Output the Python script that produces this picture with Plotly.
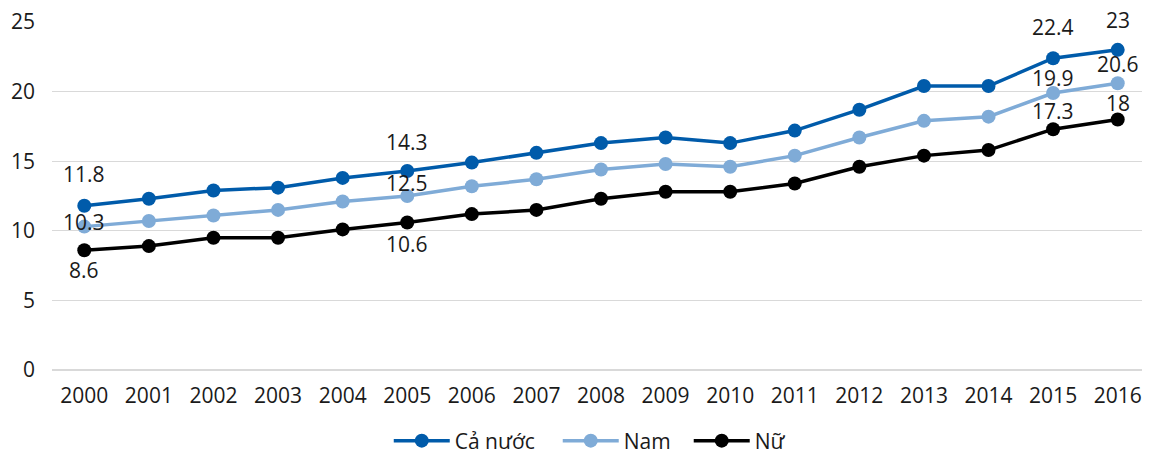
import plotly.graph_objects as go

years = [str(y) for y in range(2000, 2017)]
ca_nuoc = [11.8, 12.3, 12.9, 13.1, 13.8, 14.3, 14.9, 15.6, 16.3, 16.7, 16.3, 17.2, 18.7, 20.4, 20.4, 22.4, 23.0]
nam = [10.3, 10.7, 11.1, 11.5, 12.1, 12.5, 13.2, 13.7, 14.4, 14.8, 14.6, 15.4, 16.7, 17.9, 18.2, 19.9, 20.6]
nu = [8.6, 8.9, 9.5, 9.5, 10.1, 10.6, 11.2, 11.5, 12.3, 12.8, 12.8, 13.4, 14.6, 15.4, 15.8, 17.3, 18.0]

series_names = ["Cả nước", "Nam", "Nữ"]
series_colors = ["#005BAA", "#7FABD7", "#000000"]
legend_ids = ["legend", "legend2", "legend3"]
legend_x = [0.3067, 0.4606, 0.5799]
label_idx = [0, 5, 15, 16]
# vertical pixel offsets of data labels for each series at label_idx
label_shift = {
    "Cả nước": [32, 29, 31, 30],
    "Nam": [5, 13, 15, 19],
    "Nữ": [-20, -22, 18, 16],
}

FONT = "Open Sans"
FS = 21
x = list(range(len(years)))
fig = go.Figure()
annotations = []
for name, vals, col, lg in zip(series_names, [ca_nuoc, nam, nu], series_colors, legend_ids):
    fig.add_trace(go.Scatter(
        x=x, y=vals, name=name, mode="lines+markers", legend=lg, showlegend=True,
        line=dict(color=col, width=3.5),
        marker=dict(color=col, size=14),
    ))
    for i, s in zip(label_idx, label_shift[name]):
        v = vals[i]
        annotations.append(dict(
            x=i, y=v, xref="x", yref="y", text=f"{v:g}", showarrow=False,
            yshift=s, font=dict(family=FONT, size=FS, color="#1a1a1a"),
        ))

legend_common = dict(orientation="h", xanchor="left", y=-0.204, yanchor="middle",
                     font=dict(family=FONT, size=FS), itemwidth=56,
                     bgcolor="rgba(0,0,0,0)")
legends = {lg: dict(x=lx, **legend_common) for lg, lx in zip(legend_ids, legend_x)}

fig.update_layout(
    width=1142, height=448,
    showlegend=True,
    margin=dict(l=44, r=0, t=14, b=86, autoexpand=False),
    paper_bgcolor="white", plot_bgcolor="white",
    font=dict(family=FONT, size=FS, color="#1a1a1a"),
    annotations=annotations,
    xaxis=dict(tickmode="array", tickvals=x, ticktext=years, range=[-0.5, 16.5],
               showgrid=False, zeroline=False, showline=False, ticks="",
               automargin=False, ticklabelstandoff=11, ticklabeloverflow="allow"),
    yaxis=dict(range=[0, 25], dtick=5, showgrid=True, gridcolor="#d9d9d9", gridwidth=1,
               zeroline=True, zerolinecolor="#d9d9d9", showline=False, ticks="",
               automargin=False, ticklabelstandoff=16, ticklabeloverflow="allow"),
    **legends,
)

fig.write_html("out.html")
